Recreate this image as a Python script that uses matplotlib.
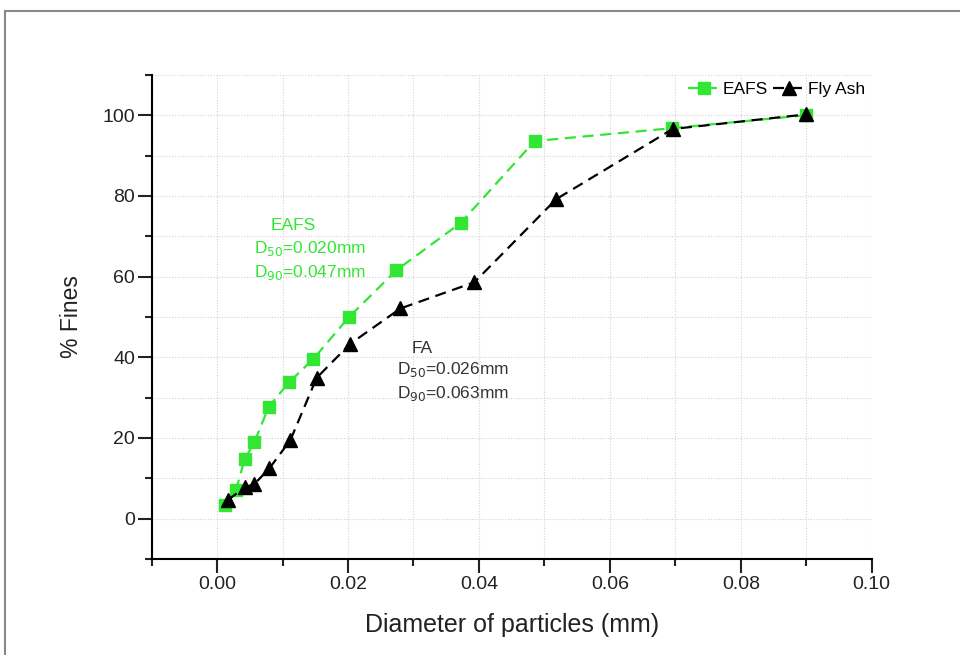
import numpy as np
import matplotlib.pyplot as plt
from matplotlib.lines import Line2D
from matplotlib.ticker import MultipleLocator

plt.rcParams['font.family'] = ['Liberation Sans', 'DejaVu Sans']

# EAFS gradation (green squares)
eafs_d = [0.0012, 0.0029, 0.0042, 0.0057, 0.0079, 0.0110, 0.0147, 0.0201,
          0.0274, 0.0372, 0.0485, 0.0695, 0.0899]
eafs_p = [3.5, 7.2, 14.7, 19.0, 27.8, 33.8, 39.6, 49.9, 61.6, 73.3, 93.6,
          96.8, 100.0]

# Fly ash gradation (black triangles)
fa_d = [0.0016, 0.0043, 0.0057, 0.0080, 0.0112, 0.0152, 0.0203, 0.0280,
        0.0393, 0.0518, 0.0696, 0.0899]
fa_p = [4.6, 7.8, 8.6, 12.5, 19.5, 34.9, 43.3, 52.1, 58.6, 79.2, 96.6, 100.2]

green = '#33e633'
dark = '#222222'

fig = plt.figure(figsize=(9.6, 6.55), dpi=100)
ax = fig.add_axes([0.158, 0.1466, 0.75, 0.739])

ax.plot(eafs_d, eafs_p, ls=(0, (5, 3)), color=green, lw=1.6, marker='s',
        ms=8, mfc=green, mec=green, label='EAFS', zorder=3)
ax.plot(fa_d, fa_p, ls=(0, (5, 3)), color='black', lw=1.6, marker='^',
        ms=9.5, mfc='black', mec='black', label='Fly Ash', zorder=4)

ax.set_xlim(-0.01, 0.10)
ax.set_ylim(-10, 110)
ax.xaxis.set_minor_locator(MultipleLocator(0.01))
ax.yaxis.set_minor_locator(MultipleLocator(10))
ax.set_xticks([0.0, 0.02, 0.04, 0.06, 0.08, 0.10])
ax.set_xticklabels(['0.00', '0.02', '0.04', '0.06', '0.08', '0.10'])
ax.set_yticks([0, 20, 40, 60, 80, 100])

ax.grid(True, which='both', color='#d2d2d2', ls=(0, (1, 1.5)), lw=0.8)
ax.set_axisbelow(True)
for s in ['top', 'right']:
    ax.spines[s].set_visible(False)
for s in ['left', 'bottom']:
    ax.spines[s].set_linewidth(1.5)
ax.tick_params(which='major', direction='out', length=10, width=1.5,
               labelsize=14, colors=dark)
ax.tick_params(axis='y', which='major', pad=2)
ax.tick_params(axis='x', which='major', pad=2)
ax.tick_params(which='minor', direction='out', length=5, width=1.5,
               colors=dark)

ax.set_xlabel('Diameter of particles (mm)', fontsize=18, color=dark,
              labelpad=15)
ax.set_ylabel('% Fines', fontsize=16.5, color=dark, labelpad=14)

ax.text(0.0116, 71.6, 'EAFS', color=green, fontsize=12.5, ha='center')
ax.text(0.0056, 65.8, r'D$_{50}$=0.020mm', color=green, fontsize=12.5)
ax.text(0.0056, 59.9, r'D$_{90}$=0.047mm', color=green, fontsize=12.5)

ax.text(0.0313, 41.0, 'FA', color='#333333', fontsize=12.5, ha='center')
ax.text(0.0275, 35.8, r'D$_{50}$=0.026mm', color='#333333', fontsize=12.5)
ax.text(0.0275, 29.8, r'D$_{90}$=0.063mm', color='#333333', fontsize=12.5)

leg = ax.legend(loc='upper right', ncol=2, frameon=False, fontsize=12.5,
                handlelength=1.9, handletextpad=0.1, columnspacing=0.3,
                borderaxespad=0.0, bbox_to_anchor=(1.0, 1.0))

# partial frame around the figure (top and left edges)
fig.add_artist(Line2D([5 / 960, 1.0], [1 - 11 / 655, 1 - 11 / 655],
                      transform=fig.transFigure, color='#888888', lw=1.5))
fig.add_artist(Line2D([5 / 960, 5 / 960], [0.0, 1 - 11 / 655],
                      transform=fig.transFigure, color='#888888', lw=1.5))

fig.savefig('out.png', dpi=100)
